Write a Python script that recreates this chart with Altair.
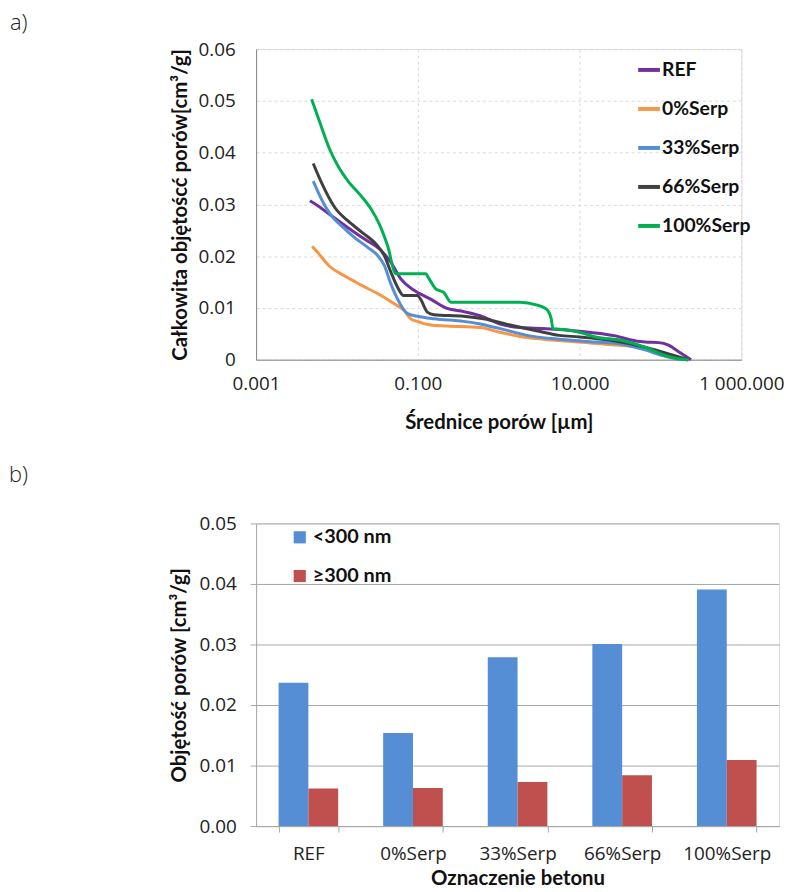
import altair as alt
import pandas as pd

# ---------------- panel a data ----------------
series_names = ["REF", "0%Serp", "33%Serp", "66%Serp", "100%Serp"]
series_colors = ["#7030A0", "#F79646", "#558ED5", "#404040", "#00B050"]

ref_d = [0.00463, 0.00586, 0.00855, 0.0137, 0.0219, 0.0351, 0.0465, 0.0617, 0.0897, 0.144, 0.230, 0.368,
         0.590, 1.04, 1.82, 3.87, 9.93, 19.1, 27.9, 40.7, 64.6, 95.5, 126, 166, 239]
ref_v = [0.0307, 0.0297, 0.0278, 0.0255, 0.0233, 0.0211, 0.0188, 0.0156, 0.0134, 0.0117, 0.0099, 0.0093,
         0.0085, 0.0069, 0.0062, 0.0060, 0.0055, 0.0050, 0.0046, 0.0039, 0.0034, 0.0033, 0.0028, 0.0016, 0.0]

s0_d = [0.00495, 0.00586, 0.00778, 0.0124, 0.0200, 0.0351, 0.0511, 0.0676, 0.0817, 0.0986, 0.144, 0.230,
        0.590, 1.04, 2.00, 3.87, 9.93, 25.4, 53.7, 105, 166, 221]
s0_v = [0.0219, 0.0206, 0.0183, 0.0162, 0.0144, 0.0124, 0.0108, 0.0095, 0.0079, 0.0074, 0.0067, 0.0065,
        0.0062, 0.0053, 0.0044, 0.0039, 0.0034, 0.0029, 0.0024, 0.0012, 0.0002, 0.0]

s33_d = [0.00509, 0.00644, 0.00855, 0.0113, 0.0165, 0.0240, 0.0319, 0.0385, 0.0465, 0.0562, 0.0745, 0.0986,
         0.158, 0.368, 0.590, 1.04, 2.42, 6.17, 15.8, 30.7, 64.6, 105, 166, 221]
s33_v = [0.0345, 0.0310, 0.0278, 0.0259, 0.0236, 0.0217, 0.0201, 0.0182, 0.0146, 0.0117, 0.0089, 0.0084,
         0.0079, 0.0074, 0.0069, 0.0060, 0.0046, 0.0039, 0.0034, 0.0031, 0.0019, 0.0008, 0.0001, 0.0]

s66_d = [0.00509, 0.00644, 0.0094, 0.0137, 0.0200, 0.0305, 0.0385, 0.0465, 0.0562, 0.0665, 0.0986, 0.108,
         0.131, 0.158, 0.368, 0.649, 1.38, 2.92, 5.62, 9.93, 25.4, 64.6, 115, 221]
s66_v = [0.0379, 0.0342, 0.0294, 0.0268, 0.0247, 0.0223, 0.0201, 0.0169, 0.0140, 0.0124, 0.0124, 0.0117,
         0.0092, 0.0087, 0.0084, 0.0079, 0.0067, 0.0056, 0.0047, 0.0044, 0.0037, 0.0024, 0.0013, 0.0]

s100_d = [0.00486, 0.00615, 0.00815, 0.0103, 0.0137, 0.0200, 0.0264, 0.0334, 0.0423, 0.0536, 0.125, 0.138,
          0.166, 0.209, 0.257, 0.590, 1.82, 2.92, 3.87, 4.46, 4.68, 6.81, 9.93, 15.8, 33.9, 64.6, 115, 166, 221]
s100_v = [0.0503, 0.0458, 0.0406, 0.0374, 0.0345, 0.0316, 0.0291, 0.0262, 0.0220, 0.0166, 0.0166, 0.0156,
          0.0137, 0.0130, 0.0111, 0.0111, 0.0111, 0.0106, 0.0098, 0.0079, 0.0060, 0.0058, 0.0053, 0.0044,
          0.0037, 0.0024, 0.0008, 0.0002, 0.0]

x_ticks_a = [0.001, 0.1, 10, 1000]
y_ticks_a = [0, 0.01, 0.02, 0.03, 0.04, 0.05, 0.06]

# ---------------- panel b data ----------------
categories = ["REF", "0%Serp", "33%Serp", "66%Serp", "100%Serp"]
groups = ["<300 nm", "≥300 nm"]
group_colors = ["#558ED5", "#C0504D"]
small_pores = [0.0237, 0.0154, 0.0279, 0.0301, 0.0391]
large_pores = [0.0062, 0.0063, 0.0073, 0.0084, 0.0109]
y_ticks_b = [0, 0.01, 0.02, 0.03, 0.04, 0.05]

FONT = "Open Sans"
BOLD_FONT = "Lato"
LBL = 19
TTL = 20.5

rows = []
for name, ds, vs in zip(series_names, [ref_d, s0_d, s33_d, s66_d, s100_d],
                        [ref_v, s0_v, s33_v, s66_v, s100_v]):
    for i, (d, v) in enumerate(zip(ds, vs)):
        rows.append({"s": name, "d": d, "v": v, "i": i})
df_a = pd.DataFrame(rows)

rows_b = []
for c, a, b in zip(categories, small_pores, large_pores):
    rows_b.append({"cat": c, "grp": groups[0], "val": a})
    rows_b.append({"cat": c, "grp": groups[1], "val": b})
df_b = pd.DataFrame(rows_b)

chart_a = alt.Chart(df_a, title=alt.TitleParams(
    "a)", anchor="start", frame="group", dx=-248, fontSize=22, fontWeight=300,
    font=FONT, color="#222222", offset=5)).mark_line(strokeWidth=3, interpolate="monotone").encode(
    x=alt.X("d:Q",
            scale=alt.Scale(type="log", domain=[0.001, 1000], nice=False),
            axis=alt.Axis(values=x_ticks_a,
                          labelExpr="datum.value >= 1000 ? '1 000.000' : format(datum.value, '.3f')",
                          title="Średnice porów [µm]", grid=True, gridDash=[3, 3], gridColor="#D9D9D9",
                          ticks=False, labelPadding=15, titlePadding=19, domainColor="#868686",
                          labelFont=FONT, labelFontSize=LBL, labelColor="#222222", labelFlush=False,
                          titleFont=BOLD_FONT, titleFontSize=TTL, titleFontWeight="bold", titleColor="#111111")),
    y=alt.Y("v:Q",
            scale=alt.Scale(domain=[0, 0.06], nice=False),
            axis=alt.Axis(values=y_ticks_a, format=".2~f", title="Całkowita objętoścć porów[cm³/g]",
                          grid=True, gridDash=[3, 3], gridColor="#D9D9D9", ticks=False, labelPadding=21,
                          titlePadding=8, domainColor="#868686",
                          labelFont=FONT, labelFontSize=LBL, labelColor="#222222",
                          titleFont=BOLD_FONT, titleFontSize=TTL, titleFontWeight="bold", titleColor="#111111")),
    color=alt.Color("s:N", scale=alt.Scale(domain=series_names, range=series_colors),
                    legend=alt.Legend(title=None, orient="none", legendX=383, legendY=8,
                                      symbolType="stroke", symbolStrokeWidth=4, symbolSize=480,
                                      labelFont=BOLD_FONT, labelFontSize=19.5, labelFontWeight="bold",
                                      labelColor="#111111", rowPadding=16.3, labelOffset=0)),
    order="i:Q",
).properties(width=489, height=313)

chart_b = alt.Chart(df_b, title=alt.TitleParams(
    "b)", anchor="start", frame="group", dx=-249, fontSize=22, fontWeight=300,
    font=FONT, color="#222222", offset=28)).mark_bar().encode(
    x=alt.X("cat:N", sort=categories,
            scale=alt.Scale(paddingInner=0.43, paddingOuter=0.215),
            axis=alt.Axis(title="Oznaczenie betonu", labelAngle=0, tickBand="extent", ticks=True,
                          tickSize=6, tickColor="#A6A6A6", domainColor="#A6A6A6", labelPadding=13,
                          titlePadding=5,
                          labelFont=FONT, labelFontSize=LBL, labelColor="#222222",
                          titleFont=BOLD_FONT, titleFontSize=TTL, titleFontWeight="bold", titleColor="#111111")),
    xOffset=alt.XOffset("grp:N", sort=groups),
    y=alt.Y("val:Q", scale=alt.Scale(domain=[0, 0.05], nice=False),
            axis=alt.Axis(values=y_ticks_b, format=".2f", title="Objętość porów [cm³/g]",
                          grid=True, gridColor="#A6A6A6", ticks=True, tickSize=6, tickColor="#A6A6A6",
                          domainColor="#A6A6A6", labelPadding=14, titlePadding=10,
                          labelFont=FONT, labelFontSize=LBL, labelColor="#222222",
                          titleFont=BOLD_FONT, titleFontSize=TTL, titleFontWeight="bold", titleColor="#111111")),
    color=alt.Color("grp:N", scale=alt.Scale(domain=groups, range=group_colors),
                    legend=alt.Legend(title=None, orient="none", legendX=34, legendY=4,
                                      symbolType="square", symbolSize=150, symbolStrokeWidth=0,
                                      labelFont=BOLD_FONT, labelFontSize=20, labelFontWeight="bold",
                                      labelColor="#111111", rowPadding=19, labelOffset=3)),
).properties(width=527, height=305)

chart = alt.vconcat(chart_a, chart_b, spacing=30).resolve_scale(color="independent").properties(
    padding={"left": 0, "top": 0, "right": 0, "bottom": 0}
).configure_view(stroke=None).configure(background="white")

chart.save("out.html", embed_options={"renderer": "svg", "actions": False})
